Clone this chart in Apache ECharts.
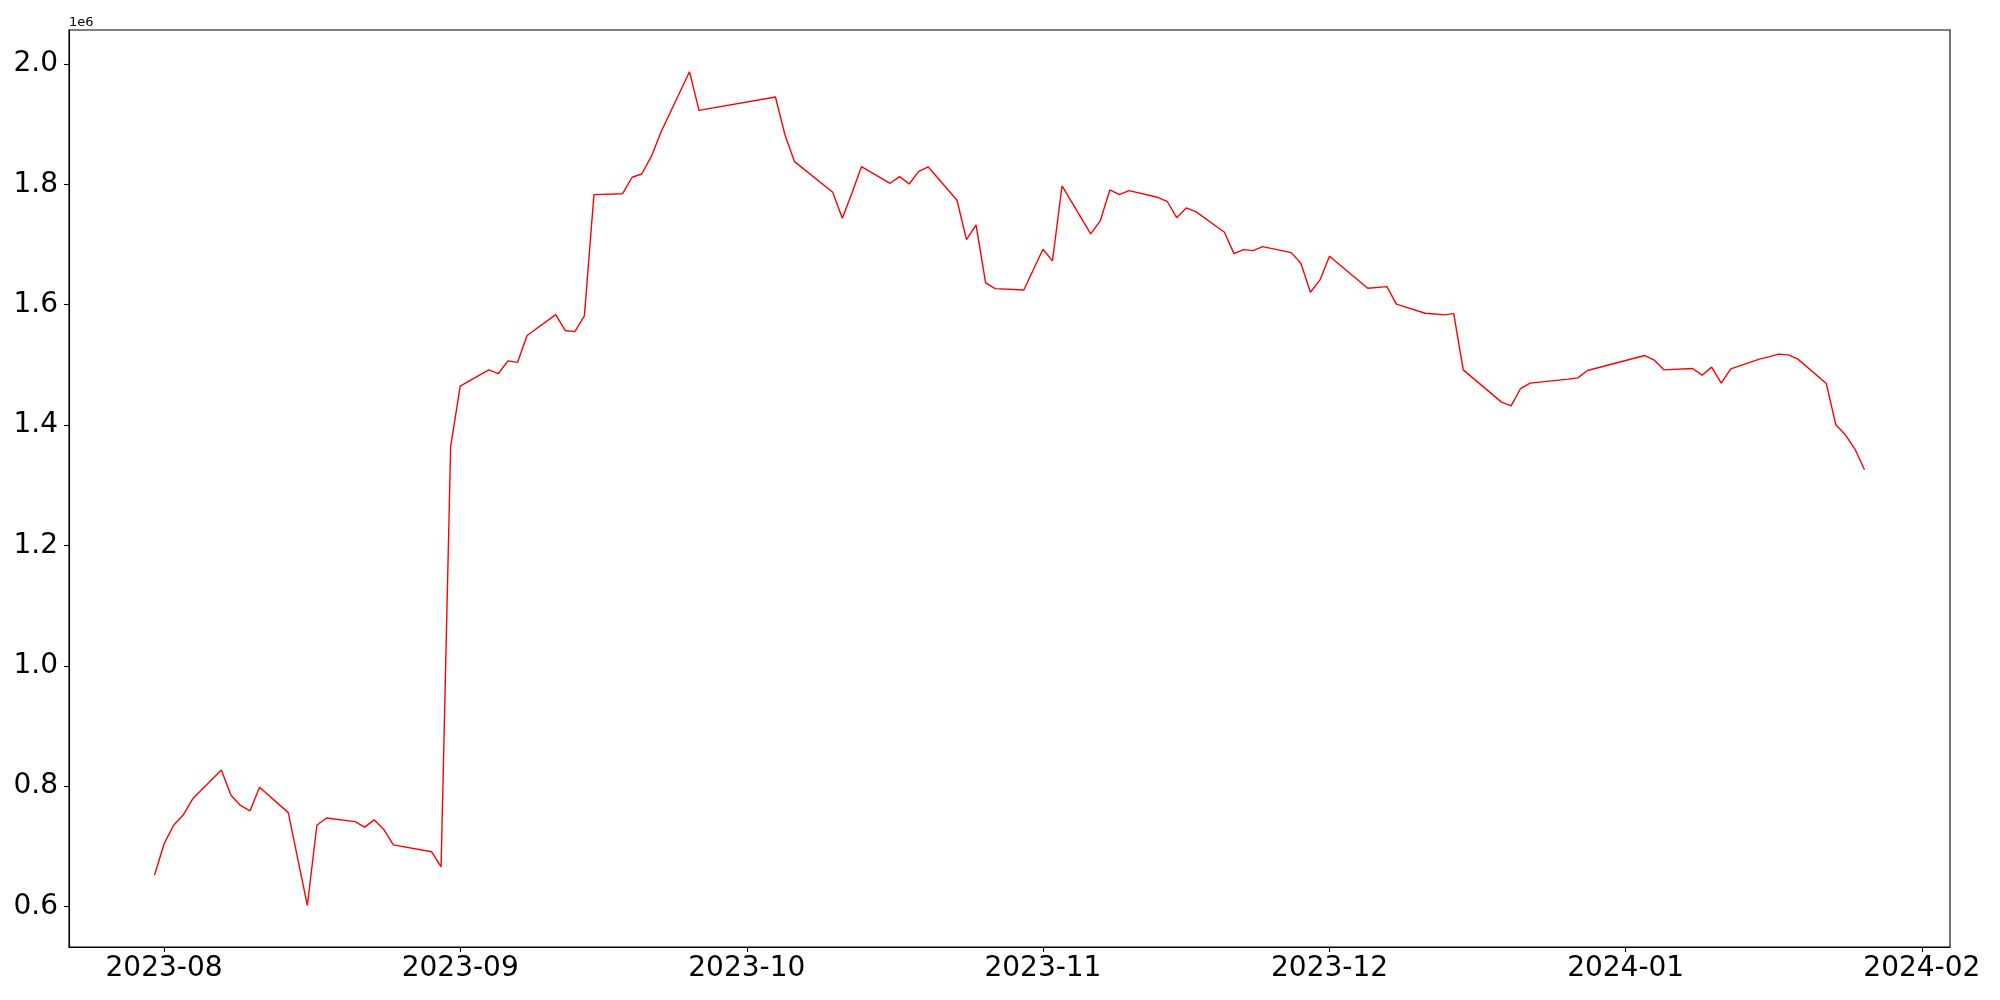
<!DOCTYPE html>
<html>
<head>
<meta charset="utf-8">
<script src="https://cdn.jsdelivr.net/npm/echarts@6/dist/echarts.min.js"></script>
<style>
html,body{margin:0;padding:0;background:#fff;}
#chart{width:2000px;height:1000px;}
</style>
</head>
<body>
<div id="chart"></div>
<script>
const dates = [
 '2023-07-31','2023-08-01','2023-08-02','2023-08-03','2023-08-04',
 '2023-08-07','2023-08-08','2023-08-09','2023-08-10','2023-08-11',
 '2023-08-14','2023-08-16','2023-08-17','2023-08-18',
 '2023-08-21','2023-08-22','2023-08-23','2023-08-24','2023-08-25',
 '2023-08-29','2023-08-30','2023-08-31','2023-09-01',
 '2023-09-04','2023-09-05','2023-09-06','2023-09-07','2023-09-08',
 '2023-09-11','2023-09-12','2023-09-13','2023-09-14','2023-09-15',
 '2023-09-18','2023-09-19','2023-09-20','2023-09-21','2023-09-22',
 '2023-09-25','2023-09-26',
 '2023-10-04','2023-10-05','2023-10-06',
 '2023-10-10','2023-10-11','2023-10-12','2023-10-13',
 '2023-10-16','2023-10-17','2023-10-18','2023-10-19','2023-10-20',
 '2023-10-23','2023-10-24','2023-10-25','2023-10-26','2023-10-27',
 '2023-10-30','2023-11-01','2023-11-02','2023-11-03',
 '2023-11-06','2023-11-07','2023-11-08','2023-11-09','2023-11-10',
 '2023-11-13','2023-11-14','2023-11-15','2023-11-16','2023-11-17',
 '2023-11-20','2023-11-21','2023-11-22','2023-11-23','2023-11-24',
 '2023-11-27','2023-11-28','2023-11-29','2023-11-30','2023-12-01',
 '2023-12-05','2023-12-07','2023-12-08',
 '2023-12-11','2023-12-12','2023-12-13','2023-12-14','2023-12-15',
 '2023-12-19','2023-12-20','2023-12-21','2023-12-22',
 '2023-12-26','2023-12-27','2023-12-28',
 '2024-01-03','2024-01-04','2024-01-05',
 '2024-01-08','2024-01-09','2024-01-10','2024-01-11','2024-01-12',
 '2024-01-15','2024-01-16','2024-01-17','2024-01-18','2024-01-19',
 '2024-01-22','2024-01-23','2024-01-24','2024-01-25','2024-01-26'
];
const values = [
 652000,704000,735000,752000,779000,
 827000,785000,768000,759000,798000,
 756000,602000,735000,747000,
 741000,732000,744000,728000,702500,
 691000,666000,1364000,1464500,
 1491600,1485500,1506600,1504000,1548600,
 1583400,1556900,1555200,1581300,1782700,
 1784300,1811600,1817000,1845800,1886000,
 1987000,1922800,
 1944900,1881800,1837500,
 1786600,1743500,1785000,1829200,
 1801600,1812600,1800400,1821500,1828700,
 1773400,1708000,1732400,1636100,1626600,
 1624400,1692000,1672600,1797100,
 1717400,1739000,1790500,1782700,1789300,
 1778300,1771700,1744500,1760600,1754400,
 1720200,1684700,1691300,1689700,1696300,
 1686400,1668800,1620600,1641000,1680400,
 1627300,1629900,1600700,
 1585700,1584500,1582900,1585100,1491600,
 1438000,1431800,1460600,1469500,
 1476200,1478300,1490500,
 1515400,1507700,1491600,
 1493800,1482800,1496100,1469500,1493300,
 1509400,1513200,1517700,1516500,1509900,
 1468900,1400300,1383700,1360000,1325600
];
const xTickLabels = ['2023-08','2023-09','2023-10','2023-11','2023-12','2024-01','2024-02'];
const yTickValues = [600000,800000,1000000,1200000,1400000,1600000,1800000,2000000];
const offsetLabel = '1e6';

function parseDay(s){ const p = s.split('-').map(Number); return Date.UTC(p[0], p[1]-1, p[2] || 1); }
const seriesData = dates.map((d,i)=>[parseDay(d), values[i]]);
const xFirst = seriesData[0][0], xLast = seriesData[seriesData.length-1][0];
const xPad = (xLast - xFirst) * 0.05;
const vMin = Math.min(...values), vMax = Math.max(...values);
const yPad = (vMax - vMin) * 0.05;
const xTickValues = xTickLabels.map(parseDay);

const font = '"DejaVu Sans", sans-serif';
const chart = echarts.init(document.getElementById('chart'), null, {renderer:'canvas'});
chart.setOption({
  animation: false,
  backgroundColor: '#ffffff',
  grid: {left: 69, right: 50, top: 30, bottom: 53, show: true, borderColor: '#000', borderWidth: 1.1, backgroundColor: 'transparent'},
  xAxis: {
    type: 'value',
    min: xFirst - xPad,
    max: xLast + xPad,
    splitLine: {show: false},
    axisLine: {show: true, lineStyle: {color: '#000', width: 1.1}},
    axisTick: {show: true, inside: false, length: 5, lineStyle: {color: '#000', width: 1.1}, customValues: xTickValues},
    axisLabel: {
      show: true, margin: 8, color: '#000', fontSize: 28, fontFamily: font,
      customValues: xTickValues,
      formatter: function(v){ const d = new Date(v); return d.getUTCFullYear() + '-' + String(d.getUTCMonth()+1).padStart(2,'0'); }
    }
  },
  yAxis: {
    type: 'value',
    min: vMin - yPad,
    max: vMax + yPad,
    splitLine: {show: false},
    axisLine: {show: true, lineStyle: {color: '#000', width: 1.1}},
    axisTick: {show: true, inside: false, length: 5, lineStyle: {color: '#000', width: 1.1}, customValues: yTickValues},
    axisLabel: {
      show: true, margin: 11, color: '#000', fontSize: 28, fontFamily: font,
      customValues: yTickValues,
      formatter: function(v){ return (v/1e6).toFixed(1); }
    }
  },
  graphic: [{
    type: 'text', left: 69, top: 16,
    style: {text: offsetLabel, fill: '#000', font: '13px "DejaVu Sans", sans-serif'}
  }],
  series: [{
    type: 'line',
    data: seriesData,
    showSymbol: false,
    symbol: 'none',
    lineStyle: {color: '#ff0000', width: 1.4},
    itemStyle: {color: '#ff0000'}
  }]
});
</script>
</body>
</html>
